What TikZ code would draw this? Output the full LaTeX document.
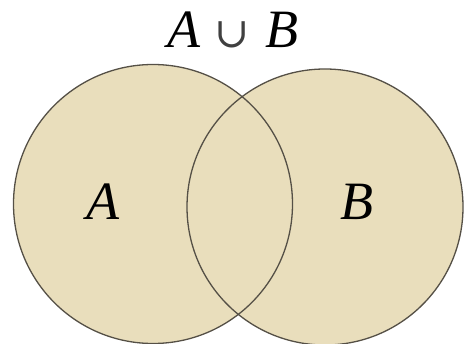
\documentclass[tikz,border=0pt]{standalone}
\usepackage{fontspec}
\setmainfont{Liberation Serif}
\newfontfamily\cupfont{DejaVu Serif}
\usetikzlibrary{positioning}

\definecolor{setfill}{RGB}{233,222,188}
\definecolor{setedge}{RGB}{85,80,70}

\begin{document}
\begin{tikzpicture}[
  x=1pt, y=-1pt,
  set/.style={circle, fill=setfill, inner sep=0pt},
  rim/.style={draw=setedge, line width=1.3pt},
  lbl/.style={font=\fontsize{54}{60}\selectfont\itshape, inner sep=0pt, anchor=base},
]
\useasboundingbox (0,0) rectangle (465,344);

% --- the two sets ---
\node[set, minimum size=279pt] (setA) at (153,204) {};
\node[set, minimum size=276pt] (setB) at (325,207) {};
\draw[rim] (setA.center) circle[radius=139.5pt];
\draw[rim] (setB.center) circle[radius=138pt];

% --- labels ---
\node[lbl] (labA) at (103,220) {A};
\node[lbl] (labB) at (357,220) {B};
\node[lbl] (title) at (233,48)
  {A\hspace{14pt}{\cupfont\upshape\fontsize{42}{42}\selectfont\color{black!75}∪}\hspace{16pt}B};

\end{tikzpicture}
\end{document}
